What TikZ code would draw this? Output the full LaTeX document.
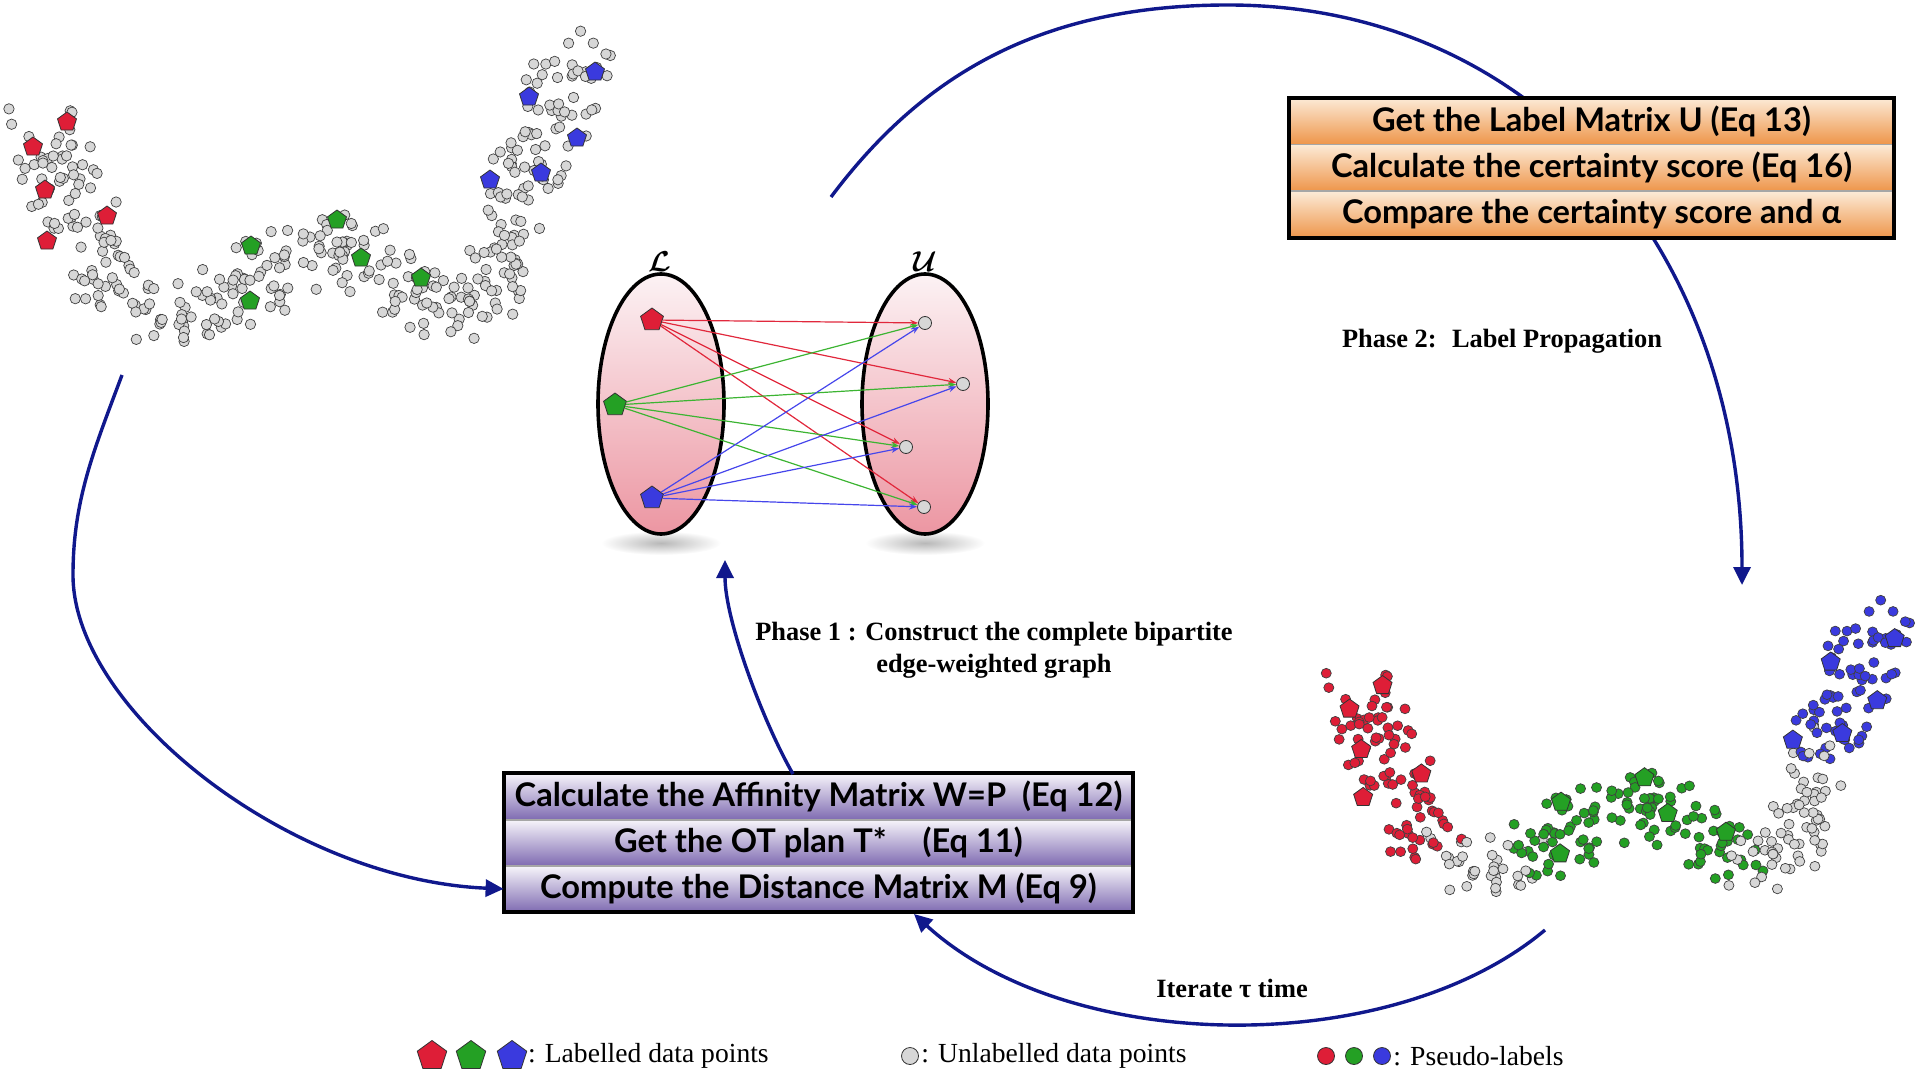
\documentclass[tikz,border=0pt]{standalone}
\usepackage{amsmath}
\usepackage{fontspec}
\setmainfont{Liberation Serif}
\newfontfamily\boxfont{Lato}
\usetikzlibrary{arrows.meta,positioning,shapes.geometric}

\definecolor{navy}{RGB}{16,24,140}
\definecolor{ptred}{RGB}{222,30,55}
\definecolor{ptgreen}{RGB}{36,160,36}
\definecolor{ptblue}{RGB}{58,58,222}
\definecolor{ptgray}{RGB}{215,215,215}
\definecolor{edgered}{RGB}{225,40,60}
\definecolor{edgegreen}{RGB}{60,180,50}
\definecolor{edgeblue}{RGB}{70,70,235}
\definecolor{orangetop}{RGB}{252,234,214}
\definecolor{orangebot}{RGB}{238,150,75}
\definecolor{purpletop}{RGB}{246,244,250}
\definecolor{purplebot}{RGB}{128,108,178}
\definecolor{pinktop}{RGB}{252,242,244}
\definecolor{pinkbot}{RGB}{236,150,162}

\newcommand{\rowfont}{\boxfont\bfseries\fontsize{16.3}{17}\selectfont}
\newcommand{\phasefont}{\bfseries\fontsize{13.2}{16}\selectfont}
\newcommand{\legfont}{\fontsize{13.8}{15}\selectfont}

\tikzset{
  ptdot/.style={draw=black!75, line width=0.35pt},
  labpt/.style={regular polygon, regular polygon sides=5, draw=black!80, line width=0.4pt, inner sep=0pt, minimum size=10pt},
  unl/.style={circle, draw=black!80, line width=0.4pt, fill=ptgray, inner sep=0pt, minimum size=6.5pt},
  setell/.style={ellipse, draw, line width=1.8pt, top color=pinktop, bottom color=pinkbot, minimum width=63pt, minimum height=130pt},
  bipedge/.style={line width=0.6pt, -{Stealth[length=4pt,width=3pt]}},
  flow/.style={navy, line width=1.7pt, -{Triangle[length=9pt,width=8.5pt]}},
  rowbox/.style={draw=gray!70, line width=0.4pt, inner sep=0pt, minimum height=23pt, font=\rowfont},
  orangerow/.style={rowbox, top color=orangetop, bottom color=orangebot, minimum width=302.5pt},
  purplerow/.style={rowbox, top color=purpletop, bottom color=purplebot, minimum width=314.5pt, minimum height=22.7pt},
  phase/.style={font=\phasefont, align=center},
  legtxt/.style={font=\legfont, inner sep=1pt}
}

% one noisy band of points along the curve; #1=0 grey, #1=1 pseudo-labelled
\newcommand{\scatterband}[2]{%
  \pgfmathsetseed{1234}%
  \foreach \ax/\ay/\bx/\by/\cnt/\ca/\cb/\cut in {
      43/116/67/196/38/ptred/ptred/0,
      67/196/104/268/35/ptred/ptred/0,
      104/268/159/320/33/ptred/ptgray/0.5,
      159/320/233/298/34/ptgray/ptgreen/0.65,
      233/298/288/257/30/ptgreen/ptgreen/0,
      288/257/337/239/24/ptgreen/ptgreen/0,
      337/239/392/272/28/ptgreen/ptgreen/0,
      392/272/441/316/27/ptgreen/ptgreen/0,
      441/316/490/298/23/ptgray/ptgray/0,
      490/298/520/208/41/ptgray/ptgray/0,
      520/208/545/122/41/ptgray/ptblue/0.2,
      545/122/582/49/37/ptblue/ptblue/0}{%
    \foreach \k in {1,...,\cnt}{%
      \pgfmathsetmacro\pos{rnd}%
      \pgfmathsetmacro\px{\ax+\pos*(\bx-\ax)+36*rand}%
      \pgfmathsetmacro\py{\ay+\pos*(\by-\ay)+30*rand}%
      \pgfmathtruncatemacro\isfirst{\pos<\cut}%
      \ifnum#1=0 \def\dotcol{ptgray}\else\ifnum\isfirst=1 \def\dotcol{\ca}\else\def\dotcol{\cb}\fi\fi
      \filldraw[ptdot, fill=\dotcol] (\px,\py) circle[radius=2.6pt];%
    }%
  }%
  \foreach \x/\y/\c [count=\i] in {67/122/ptred, 33/147/ptred, 45/190/ptred, 107/216/ptred, 47/241/ptred,
      251/246/ptgreen, 337/220/ptgreen, 361/258/ptgreen, 421/278/ptgreen, 250/301/ptgreen,
      529/97/ptblue, 595/72/ptblue, 577/138/ptblue, 541/173/ptblue, 490/180/ptblue}
    \node[labpt, fill=\c] (#2\i) at (\x,\y) {};%
}

\begin{document}
\begin{tikzpicture}[x=0.5pt, y=-0.5pt]
\useasboundingbox (0,0) rectangle (1920,1080);

\scatterband{0}{tl}
\begin{scope}[shift={(1335,600)}, xscale=0.97, yscale=0.94, shift={(-18,-31)}]
  \scatterband{1}{br}
\end{scope}

\shade[inner color=black!28, outer color=white] (661,543) ellipse[x radius=30pt, y radius=6pt];
\shade[inner color=black!28, outer color=white] (925,543) ellipse[x radius=30pt, y radius=6pt];
\node[setell] (setL) at (661,404) {};
\node[setell] (setU) at (925,404) {};
\node[font=\Large] (labL) at (660,262) {$\boldsymbol{\mathcal{L}}$};
\node[font=\Large] (labU) at (925,262) {$\boldsymbol{\mathcal{U}}$};

\node[labpt, minimum size=12pt, fill=ptred] (Lr) at (652,320) {};
\node[labpt, minimum size=12pt, fill=ptgreen] (Lg) at (615,405) {};
\node[labpt, minimum size=12pt, fill=ptblue] (Lb) at (652,498) {};
\node[unl] (U1) at (925,323) {};
\node[unl] (U2) at (963,384) {};
\node[unl] (U3) at (906,447) {};
\node[unl] (U4) at (924,507) {};
\foreach \p/\c in {Lr/edgered, Lg/edgegreen, Lb/edgeblue}
  \foreach \i in {1,...,4}
    \draw[bipedge, \c] (\p) -- (U\i);

\coordinate (tlOut) at (122,375);
\coordinate (graphOut) at (831,197);
\coordinate (brIn) at (1742,585);
\coordinate (brOut) at (1545,930);
\coordinate (loopIn) at (914,914);
\coordinate (phaseOneOut) at (793,774);
\coordinate (graphIn) at (725,560);

\draw[flow] (graphOut) .. controls (921,77) and (1038,5) .. (1228,5)
  .. controls (1535,5) and (1742,250) .. (brIn);

\node[orangerow] (getU) at (1591.5,121) {Get the Label Matrix U (Eq 13)};
\node[orangerow, below=0pt of getU] (calcC) {Calculate the certainty score (Eq 16)};
\node[orangerow, below=0pt of calcC] (compC) {Compare the certainty score and α};
\draw[line width=2pt] (getU.north west) rectangle (compC.south east);

\node[purplerow] (affW) at (818.5,796.5) {Calculate the Affinity Matrix W=P\ \ (Eq 12)};
\node[purplerow, below=0pt of affW] (otT) {Get the OT plan T*\hspace{1.1em}(Eq 11)};
\node[purplerow, below=0pt of otT] (distM) {Compute the Distance Matrix M (Eq 9)};
\draw[line width=2pt] (affW.north west) rectangle (distM.south east);

\draw[flow] (tlOut) .. controls (94,450) and (73,500) .. (73,575)
  .. controls (73,710) and (290,880) .. (distM.west);
\draw[flow] (phaseOneOut) .. controls (763,722) and (725,620) .. (graphIn);
\draw[flow] (brOut) .. controls (1390,1060) and (1068,1055) .. (loopIn);

\node[phase] (phaseTwo) at (1502,341) {Phase 2:~ Label Propagation};
\node[phase] (phaseOne) at (994,650) {Phase 1 : Construct the complete bipartite\\edge-weighted graph};
\node[phase] (iterate) at (1232,988) {Iterate τ time};

\node[labpt, minimum size=15.5pt, fill=ptred] (legR) at (432,1056) {};
\node[labpt, minimum size=15.5pt, fill=ptgreen] (legG) at (471,1056) {};
\node[labpt, minimum size=15.5pt, fill=ptblue] (legB) at (512,1056) {};
\node[legtxt, right=0pt of legB] (legTxtL) {: Labelled data points};
\node[unl, minimum size=8.5pt] (legU) at (910,1056) {};
\node[legtxt, right=0pt of legU] (legTxtU) {: Unlabelled data points};
\node[unl, minimum size=8.5pt, fill=ptred] (legPr) at (1326,1056) {};
\node[unl, minimum size=8.5pt, fill=ptgreen] (legPg) at (1354,1056) {};
\node[unl, minimum size=8.5pt, fill=ptblue] (legPb) at (1382,1056) {};
\node[legtxt, right=0pt of legPb] (legTxtP) {: Pseudo-labels};
\end{tikzpicture}
\end{document}
